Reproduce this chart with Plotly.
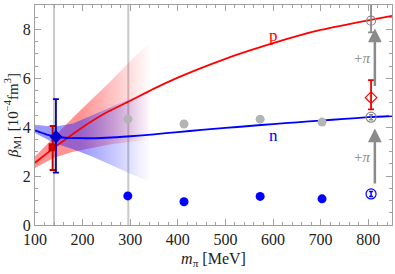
import plotly.graph_objects as go

# ---------------- data ----------------
# chiral EFT curves
curve_m = [100, 125, 150, 200, 250, 300, 350, 400, 450, 500, 550, 600, 650, 700, 750, 800, 850]
p_curve = [2.55, 2.93, 3.3, 4.0, 4.6, 5.08, 5.58, 6.03, 6.43, 6.8, 7.13, 7.44, 7.73, 7.98, 8.18, 8.37, 8.56]
n_curve = [3.87, 3.7, 3.59, 3.55, 3.57, 3.63, 3.71, 3.8, 3.89, 3.97, 4.05, 4.13, 4.2, 4.27, 4.34, 4.41, 4.46]

# uncertainty bands (fading out towards higher pion masses)
band_m = [100, 140, 180, 220, 260, 300, 340]
p_band_hi = [2.8, 3.6, 4.4, 5.15, 5.9, 6.7, 7.45]
p_band_lo = [2.33, 2.75, 3.0, 3.15, 3.3, 3.4, 3.5]
n_band_hi = [4.1, 4.02, 4.15, 4.5, 4.83, 5.16, 5.5]
n_band_lo = [3.76, 3.35, 3.1, 2.8, 2.45, 2.1, 1.8]

# physical-point values
phys_p = dict(m=137, b=3.18, up=0.87, dn=0.93)
phys_n = dict(m=144, b=3.61, up=1.54, dn=1.47)

# lattice results
lat_m = [295, 413, 573, 703]
lat_gray = [4.33, 4.13, 4.33, 4.21]
lat_blue = [1.19, 0.95, 1.17, 1.07]

# NPLQCD 806 MeV
m806 = 806
top_gray = dict(b=8.36, up=1.0, dn=0.48)
red_806 = dict(b=5.21, up=0.72, dn=0.48)
mid_gray = dict(b=4.41, err=0.1)
blue_806 = dict(b=1.27, err=0.1)

# "+pi" arrows
arrow_m = 814
arrow_from = [1.64, 5.63]
arrow_to = [3.95, 8.04]
arrow_label_m = 786
arrow_label_b = [2.78, 6.82]

vlines_m = [140, 296]

FONT = "Liberation Serif"
GRAY = "#8a8a8a"

fig = go.Figure()

def band(xs, hi, lo, rgb, a0):
    fig.add_trace(go.Scatter(
        x=list(xs) + list(xs)[::-1], y=list(hi) + list(lo)[::-1],
        mode="lines", line=dict(width=0), fill="toself",
        fillgradient=dict(type="horizontal", start=100, stop=345,
                          colorscale=[[0, f"rgba({rgb},{a0})"],
                                      [0.4, f"rgba({rgb},{a0})"],
                                      [0.7, f"rgba({rgb},{a0*0.5})"],
                                      [0.9, f"rgba({rgb},{a0*0.15})"],
                                      [1, f"rgba({rgb},0)"]]),
        hoverinfo="skip", showlegend=False))

band(band_m, p_band_hi, p_band_lo, "255,40,40", 0.5)
band(band_m, n_band_hi, n_band_lo, "50,50,255", 0.5)

fig.add_trace(go.Scatter(x=curve_m, y=p_curve, mode="lines",
                         line=dict(color="#ff0000", width=1.8, shape="spline", smoothing=0.8),
                         showlegend=False))
fig.add_trace(go.Scatter(x=curve_m, y=n_curve, mode="lines",
                         line=dict(color="#0000ff", width=1.8, shape="spline", smoothing=0.8),
                         showlegend=False))

# lattice points
fig.add_trace(go.Scatter(x=lat_m, y=lat_gray, mode="markers",
                         marker=dict(color="#b4b4b4", size=9), showlegend=False))
fig.add_trace(go.Scatter(x=lat_m, y=lat_blue, mode="markers",
                         marker=dict(color="#0000ff", size=9), showlegend=False))

# physical point
fig.add_trace(go.Scatter(x=[phys_p["m"]], y=[phys_p["b"]], mode="markers",
                         marker=dict(color="#d00000", size=8, symbol="square"),
                         error_y=dict(type="data", symmetric=False, array=[phys_p["up"]],
                                      arrayminus=[phys_p["dn"]], color="#c00000",
                                      thickness=1.8, width=3),
                         showlegend=False))
fig.add_trace(go.Scatter(x=[phys_n["m"]], y=[phys_n["b"]], mode="markers",
                         marker=dict(color="#0000cc", size=10, symbol="diamond"),
                         error_y=dict(type="data", symmetric=False, array=[phys_n["up"]],
                                      arrayminus=[phys_n["dn"]], color="#0000bb",
                                      thickness=1.8, width=3),
                         showlegend=False))

# 806 MeV points
fig.add_trace(go.Scatter(x=[m806], y=[top_gray["b"]], mode="markers",
                         marker=dict(color=GRAY, size=9, symbol="circle-open", line=dict(width=1.2)),
                         error_y=dict(type="data", symmetric=False, array=[top_gray["up"]],
                                      arrayminus=[top_gray["dn"]], color=GRAY,
                                      thickness=1.8, width=3),
                         cliponaxis=False, showlegend=False))
fig.add_trace(go.Scatter(x=[m806], y=[red_806["b"]], mode="markers",
                         marker=dict(color="#ff0000", size=9, symbol="diamond-open", line=dict(width=1.2)),
                         error_y=dict(type="data", symmetric=False, array=[red_806["up"]],
                                      arrayminus=[red_806["dn"]], color="#ee0000",
                                      thickness=1.8, width=3),
                         showlegend=False))
fig.add_trace(go.Scatter(x=[m806], y=[mid_gray["b"]], mode="markers",
                         marker=dict(color=GRAY, size=10, symbol="circle-open", line=dict(width=1.2)),
                         error_y=dict(type="data", array=[mid_gray["err"]], color=GRAY,
                                      thickness=1.5, width=2),
                         showlegend=False))
fig.add_trace(go.Scatter(x=[m806], y=[blue_806["b"]], mode="markers",
                         marker=dict(color="#0000ff", size=10, symbol="circle-open", line=dict(width=1.2)),
                         error_y=dict(type="data", array=[blue_806["err"]], color="#0000ff",
                                      thickness=1.5, width=2),
                         showlegend=False))

# vertical lines
for xm in vlines_m:
    fig.add_shape(type="line", x0=xm, x1=xm, y0=0, y1=1, xref="x", yref="paper",
                  line=dict(color="#c8c8c8", width=2), layer="below")

annotations = []
for y0, y1 in zip(arrow_from, arrow_to):
    annotations.append(dict(x=arrow_m, y=y1, ax=arrow_m, ay=y0, xref="x", yref="y",
                            axref="x", ayref="y", showarrow=True, arrowhead=2,
                            arrowsize=1.1, arrowwidth=2.5, arrowcolor=GRAY, text=""))
for yb in arrow_label_b:
    annotations.append(dict(x=arrow_label_m, y=yb, xref="x", yref="y", text="+<i>π</i>",
                            showarrow=False, font=dict(family=FONT, size=15, color=GRAY)))
annotations.append(dict(x=600, y=7.75, xref="x", yref="y", text="p", showarrow=False,
                        font=dict(family=FONT, size=17, color="#ff0000")))
annotations.append(dict(x=600, y=3.68, xref="x", yref="y", text="n", showarrow=False,
                        font=dict(family=FONT, size=17, color="#0000ff")))

axis_common = dict(showgrid=False, zeroline=False, showline=True, linecolor="#a0a0a0",
                   linewidth=1, mirror="ticks", ticks="inside", ticklen=6, tickcolor="#a0a0a0",
                   automargin=False,
                   tickfont=dict(family=FONT, size=16, color="#222"))

fig.update_layout(
    width=395, height=274, margin=dict(l=35, r=3, t=5, b=49),
    plot_bgcolor="white", paper_bgcolor="white", annotations=annotations,
    xaxis=dict(range=[100, 850], tick0=0, dtick=100,
               minor=dict(dtick=20, ticks="inside", ticklen=3, tickcolor="#a0a0a0"),
               title=dict(text="<i>m</i><sub>π</sub> [MeV]", standoff=5,
                          font=dict(family=FONT, size=16, color="#222")),
               **axis_common),
    yaxis=dict(range=[0, 9], tick0=0, dtick=2,
               minor=dict(dtick=0.5, ticks="inside", ticklen=3, tickcolor="#a0a0a0"),
               title=dict(text="<i>β</i><sub>M1</sub> [10<sup>−4</sup>fm<sup>3</sup>]", standoff=0,
                          font=dict(family=FONT, size=15, color="#222")),
               **axis_common),
)

fig.write_html("out.html", config={"displayModeBar": False},
               post_script="document.body.style.margin='0';")
